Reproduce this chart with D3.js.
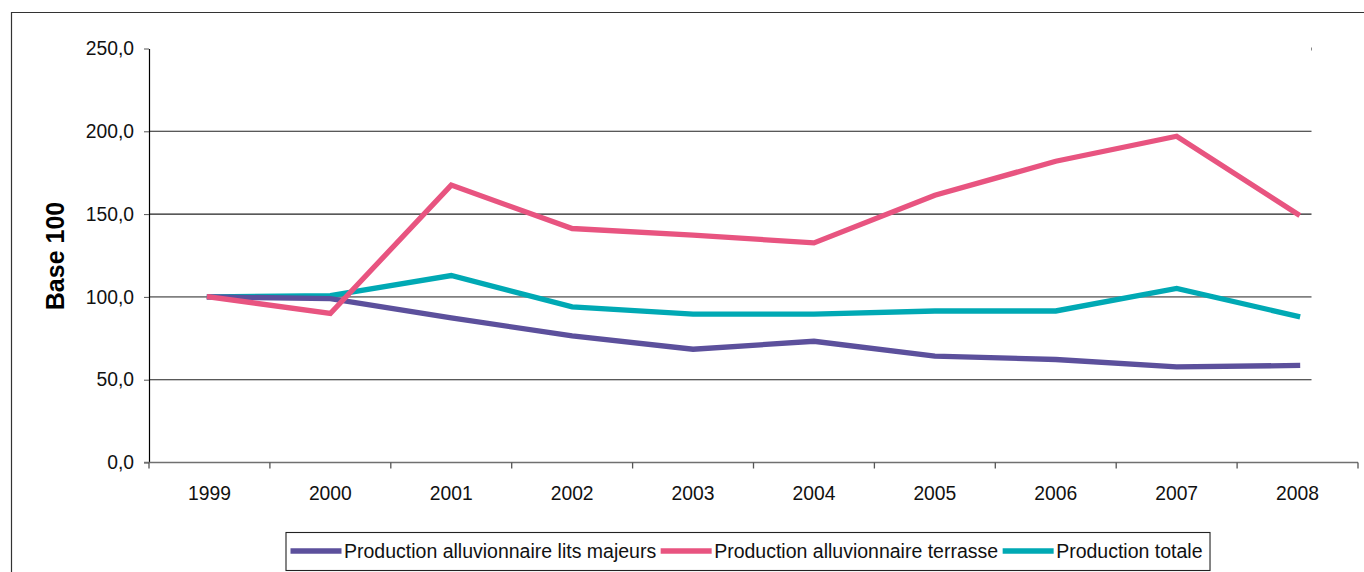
<!DOCTYPE html>
<html>
<head>
<meta charset="utf-8">
<script src="https://cdn.jsdelivr.net/npm/d3@7"></script>
<style>
    body { margin: 0; background: #fff; }
    svg { display: block; font-family: "Liberation Sans", Arial, sans-serif; }
</style>
</head>
<body>
<div id="chart-container"></div>
<script>
// Base 100 production index, 1999-2008

var years = ['1999','2000','2001','2002','2003','2004','2005','2006','2007','2008']
var litsMajeurs = [100, 99, 87.3, 76.5, 68.4, 73.2, 64.2, 62.2, 57.7, 58.6]
var terrasse = [100, 90, 167.5, 141.3, 137.3, 132.6, 161.4, 181.9, 197.0, 150.0]
var totale = [100, 100.8, 112.9, 94.0, 89.6, 89.6, 91.5, 91.5, 105.1, 88.3]
var yTicks = [0, 50, 100, 150, 200, 250]

var seriesNames = ['Production alluvionnaire lits majeurs', 'Production alluvionnaire terrasse', 'Production totale']
var seriesColors = ['#5c509c', '#e85480', '#00a9b4']

class lineChart {

    constructor() {
        this.width = 1364;
        this.height = 572;
        this.margin = ({top: 48.5, right: 6, bottom: 109.5, left: 149})
        this.gridRight = 1311.5;
    }

    updateFunctions() {
        this.x = d3.scaleBand()
            .domain(years)
            .range([this.margin.left, this.width - this.margin.right])

        this.y = d3.scaleLinear()
            .domain([0, 250])
            .range([this.height - this.margin.bottom, this.margin.top])

        this.line = d3.line()
            .x((d, i) => this.x(years[i]) + this.x.bandwidth() / 2)
            .y(d => this.y(d))

        return this;
    }

    makePlot() {
        let svg = d3.select('#chart-container')
                    .append('svg')
                    .attr("width", this.width)
                    .attr("height", this.height)

        // outer frame (cropped on right / bottom)
        svg.append("path")
            .attr("d", `M11.5,${this.height}V12.5H${this.width}`)
            .attr("fill", "none")
            .attr("stroke", "#333")
            .attr("stroke-width", 1.2)

        // gridlines
        let fmt = d => d.toFixed(1).replace('.', ',')
        svg.append("g")
            .selectAll("line")
            .data(yTicks.filter(d => d > 0 && d < 250))
            .join("line")
            .attr("x1", this.margin.left)
            .attr("x2", this.gridRight)
            .attr("y1", d => this.y(d))
            .attr("y2", d => this.y(d))
            .attr("stroke", d => d == 100 ? "#808080" : "#222")
            .attr("stroke-width", d => d == 100 ? 1.6 : 1.1)

        svg.append("line")
            .attr("x1", this.gridRight).attr("x2", this.gridRight)
            .attr("y1", this.y(250) - 1).attr("y2", this.y(250) + 2)
            .attr("stroke", "#888")

        // y axis
        let yAxis = svg.append("g")
            .attr("transform", `translate(${this.margin.left},0)`)
            .call(d3.axisLeft(this.y).tickValues(yTicks).tickFormat(fmt).tickSize(5).tickPadding(10).tickSizeOuter(0))
        yAxis.select(".domain").attr("stroke", "#000").attr("stroke-width", 1.2)
        yAxis.selectAll(".tick line").attr("stroke", "#555")
        yAxis.selectAll("text").attr("font-size", 19.3).attr("fill", "#111").attr("font-family", null)

        // x axis: ticks at category boundaries
        let y0 = this.y(0)
        let xg = svg.append("g")
        xg.append("line")
            .attr("x1", this.margin.left - 5).attr("x2", this.width - this.margin.right)
            .attr("y1", y0).attr("y2", y0)
            .attr("stroke", "#707070").attr("stroke-width", 1.6)
        let bounds = years.map(d => this.x(d)).concat([this.x(years[years.length - 1]) + this.x.bandwidth()])
        xg.selectAll("line.tk")
            .data(bounds)
            .join("line")
            .attr("class", "tk")
            .attr("x1", d => d).attr("x2", d => d)
            .attr("y1", y0).attr("y2", y0 + 6)
            .attr("stroke", "#555").attr("stroke-width", 1.3)
        xg.selectAll("text")
            .data(years)
            .join("text")
            .attr("x", d => this.x(d) + this.x.bandwidth() / 2)
            .attr("y", 500)
            .attr("text-anchor", "middle")
            .attr("font-size", 19.3)
            .attr("fill", "#111")
            .text(d => d)

        // y title
        svg.append("text")
            .attr("transform", "translate(63.5,256) rotate(-90)")
            .attr("text-anchor", "middle")
            .attr("font-size", 25)
            .attr("font-weight", "bold")
            .attr("fill", "#000")
            .text("Base 100")

        // lines
        let allSeries = [litsMajeurs, terrasse, totale]
        svg.append("g")
            .attr("fill", "none")
            .attr("stroke-width", 5.3)
            .attr("stroke-linecap", "square")
            .attr("stroke-linejoin", "miter")
            .selectAll("path")
            .data([2, 0, 1].map(i => ({vals: allSeries[i], color: seriesColors[i], idx: i})))
            .join("path")
            .attr("stroke", d => d.color)
            .attr("d", d => this.line(d.vals))

        // legend
        let leg = svg.append("g")
        let box = leg.append("rect")
            .attr("x", 286).attr("y", 532.5)
            .attr("height", 38)
            .attr("fill", "#fff")
            .attr("stroke", "#222")
            .attr("stroke-width", 1.1)
        let cx = 290.5
        seriesNames.forEach((name, i) => {
            leg.append("line")
                .attr("x1", cx).attr("x2", cx + 51)
                .attr("y1", 551).attr("y2", 551)
                .attr("stroke", seriesColors[i])
                .attr("stroke-width", 5.3)
            let t = leg.append("text")
                .attr("x", cx + 53.5)
                .attr("y", 558)
                .attr("font-size", 19.5)
                .attr("fill", "#111")
                .text(name)
            cx = cx + 53.5 + t.node().getComputedTextLength() + 4.5
        })
        box.attr("width", cx + 3 - 286)
    }
}

let chart = new lineChart()
chart.updateFunctions().makePlot()
</script>
</body>
</html>
